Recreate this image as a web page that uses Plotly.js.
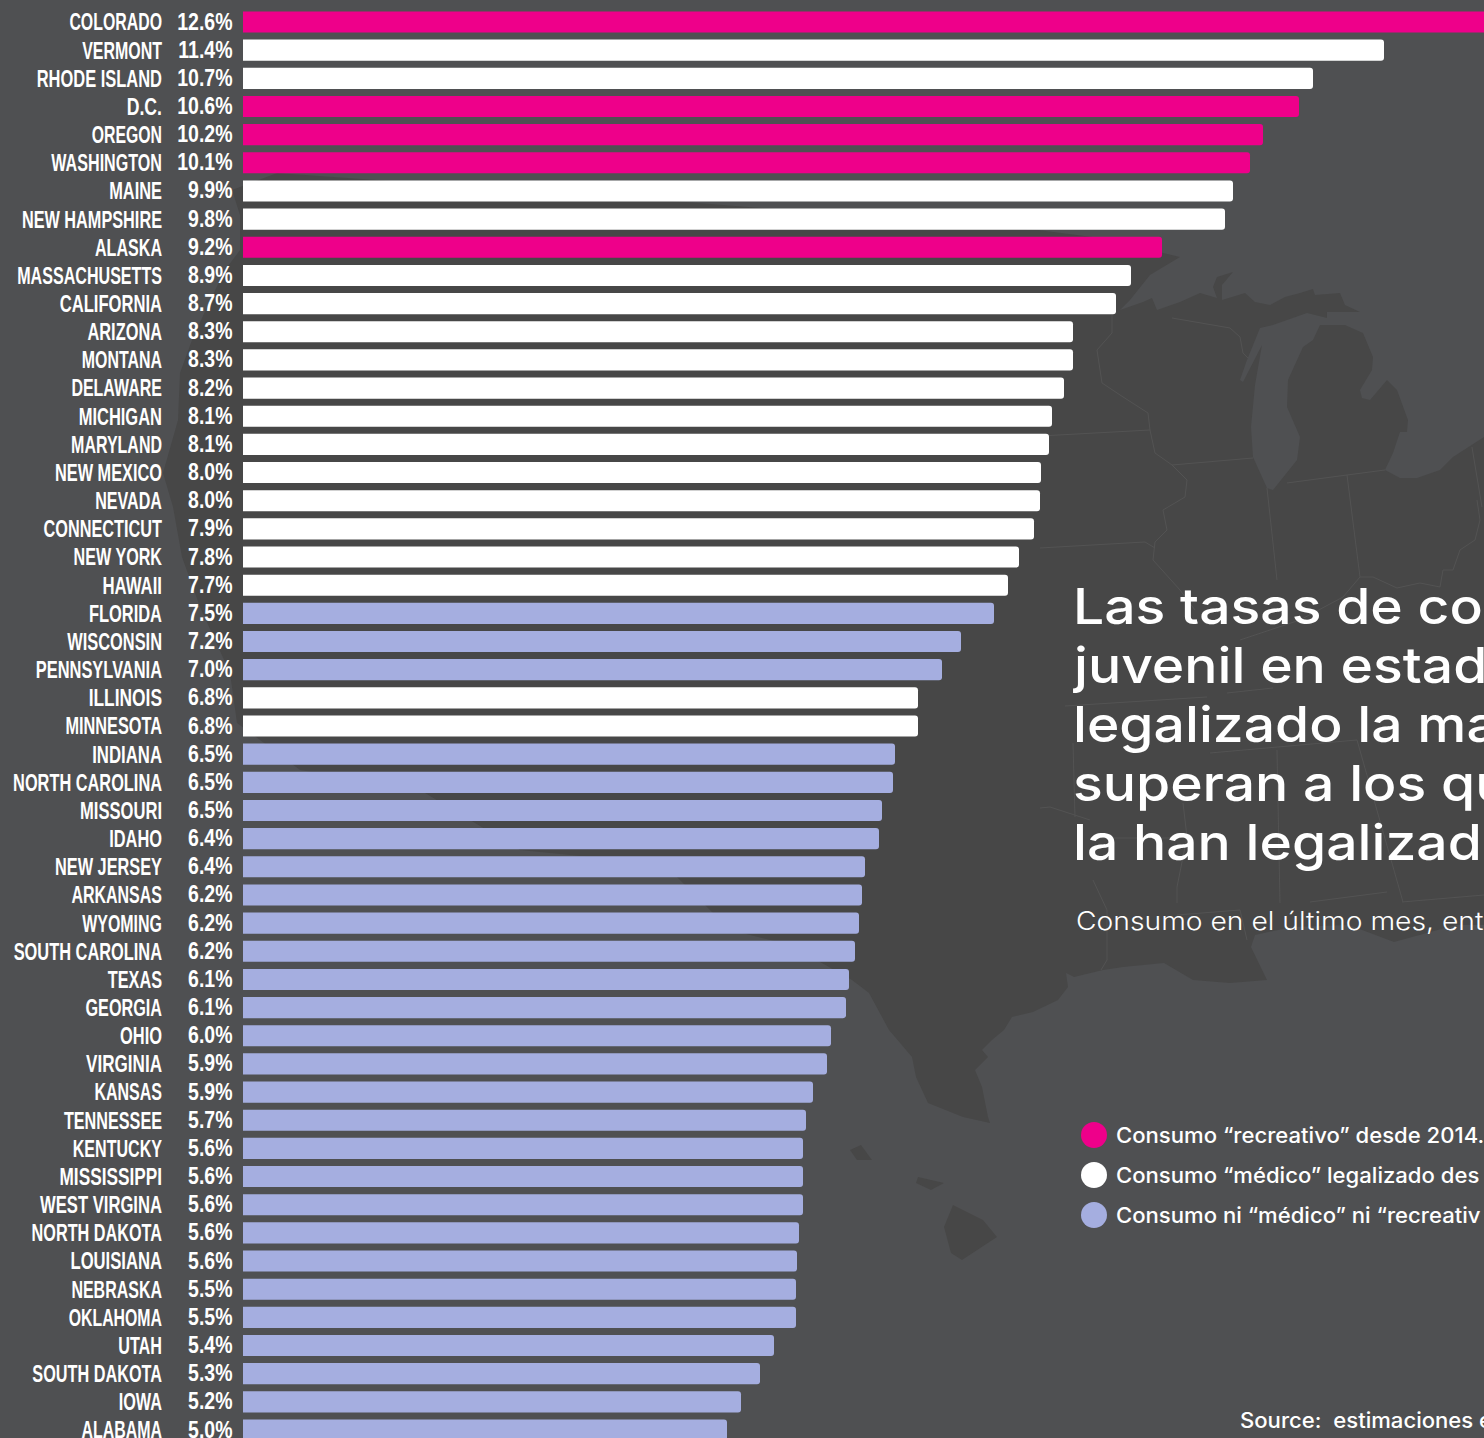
<!DOCTYPE html>
<html><head><meta charset="utf-8">
<script src="https://cdn.plot.ly/plotly-3.0.1.min.js"></script>
<style>html,body{margin:0;padding:0;background:#4f5052;overflow:hidden}#chart{width:1484px;height:1438px}</style>
</head><body><div id="chart"></div>
<script>
const states = ["COLORADO","VERMONT","RHODE ISLAND","D.C.","OREGON","WASHINGTON","MAINE","NEW HAMPSHIRE","ALASKA","MASSACHUSETTS","CALIFORNIA","ARIZONA","MONTANA","DELAWARE","MICHIGAN","MARYLAND","NEW MEXICO","NEVADA","CONNECTICUT","NEW YORK","HAWAII","FLORIDA","WISCONSIN","PENNSYLVANIA","ILLINOIS","MINNESOTA","INDIANA","NORTH CAROLINA","MISSOURI","IDAHO","NEW JERSEY","ARKANSAS","WYOMING","SOUTH CAROLINA","TEXAS","GEORGIA","OHIO","VIRGINIA","KANSAS","TENNESSEE","KENTUCKY","MISSISSIPPI","WEST VIRGINA","NORTH DAKOTA","LOUISIANA","NEBRASKA","OKLAHOMA","UTAH","SOUTH DAKOTA","IOWA","ALABAMA"];
const printedLabels = ["12.6%","11.4%","10.7%","10.6%","10.2%","10.1%","9.9%","9.8%","9.2%","8.9%","8.7%","8.3%","8.3%","8.2%","8.1%","8.1%","8.0%","8.0%","7.9%","7.8%","7.7%","7.5%","7.2%","7.0%","6.8%","6.8%","6.5%","6.5%","6.5%","6.4%","6.4%","6.2%","6.2%","6.2%","6.1%","6.1%","6.0%","5.9%","5.9%","5.7%","5.6%","5.6%","5.6%","5.6%","5.6%","5.5%","5.5%","5.4%","5.3%","5.2%","5.0%"];
const barLengths = [12.60,11.41,10.70,10.56,10.20,10.07,9.90,9.82,9.19,8.88,8.73,8.30,8.30,8.21,8.09,8.06,7.98,7.97,7.91,7.76,7.65,7.51,7.18,6.99,6.75,6.75,6.52,6.50,6.39,6.36,6.22,6.19,6.16,6.12,6.06,6.03,5.88,5.84,5.70,5.63,5.60,5.60,5.60,5.56,5.54,5.53,5.53,5.31,5.17,4.98,4.84];
// r = recreational, m = medical, n = neither
const groupOf = ["r","m","m","r","r","r","m","m","r","m","m","m","m","m","m","m","m","m","m","m","m","n","n","n","m","m","n","n","n","n","n","n","n","n","n","n","n","n","n","n","n","n","n","n","n","n","n","n","n","n","n"];
const groupNames = {r:"Consumo “recreativo” desde 2014.", m:"Consumo “médico” legalizado des", n:"Consumo ni “médico” ni “recreativ"};
const groupColors = {r:"#ee008a", m:"#ffffff", n:"#a5aee0"};
const titleLines = ["Las tasas de co","juvenil en estad","legalizado la ma","superan a los qu","la han legalizad"];
const subtitleText = "Consumo en el último mes, ent";
const sourceText = "Source:  estimaciones e";

// background map outline in page pixels
const landX = [277,660,1038,1100,1180,1150,1130,1120,1143,1152,1157,1180,1200,1217,1213,1217,1233,1222,1222,1245,1255,1270,1285,1300,1313,1315,1340,1345,1360,1327,1327,1307,1287,1273,1260,1247,1240,1243,1262,1255,1251,1253,1267,1273,1297,1300,1287,1288,1303,1313,1320,1345,1363,1373,1372,1360,1362,1370,1387,1397,1408,1407,1400,1393,1385,1400,1417,1440,1453,1484,1484,1456,1394,1349,1292,1255,1251,1267,1230,1193,1164,1123,1103,1074,1066,1068,1058,1033,1012,1004,992,982,988,975,982,988,990,963,928,916,912,889,869,852,790,730,660,620,520,420,300,260,237,230,200,182,173,163,178,180,192,207,225,240,240,232];
const landY = [173,200,230,238,257,275,300,310,302,298,310,302,293,298,287,277,272,285,300,293,302,305,297,293,289,295,293,305,312,312,318,313,320,325,328,360,380,382,345,385,427,457,488,490,460,437,407,380,347,340,325,325,333,357,370,390,398,400,380,390,420,432,432,453,470,478,478,470,457,437,925,925,942,925,927,935,947,980,983,980,963,967,970,977,973,987,1000,1012,1017,1030,1040,1050,1057,1070,1087,1117,1123,1117,1103,1077,1057,1030,993,980,945,930,860,860,850,790,770,740,723,673,607,557,507,473,420,373,340,307,270,250,215,190];
const islandsX = [[953,983,997,962,951,944],[918,944,931,916],[850,861,872,857]];
const islandsY = [[1205,1220,1237,1260,1253,1227],[1177,1183,1190,1183],[1150,1145,1160,1160]];
const borderX = [[1112,1112,1097,1102,1120,1148,1150,1155,1172,1187,1185,1163,1167,1155,1153,1180,1195],[1040,1150],[1040,1145,1155],[1172,1253],[1267,1277],[1287,1347,1385],[1347,1360],[1172,1230,1240,1243,1248],[1472,1482],[1477,1480,1475,1460,1453,1443,1440,1420,1397,1373,1360,1343,1300,1240],[1065,1207],[1227,1273],[1210,1357],[1277,1280],[1357,1403],[1402,1484],[1310,1387],[1177,1240,1247],[1183,1187,1177,1177],[1093,1107,1107,1101],[1073,1075],[1040,1050,1090],[1092,1180]];
const borderY = [[315,333,350,383,395,413,430,453,465,480,497,510,530,542,560,590,610],[436,430],[548,542,548],[465,458],[488,580],[483,475,470],[475,577],[318,328,337,353,358],[447,507],[500,520,540,550,570,570,587,583,588,577,577,597,620,640],[706,697],[693,688],[753,740],[750,903],[740,902],[902,895],[902,892],[915,910,940],[803,837,887,903],[880,910,960,970],[743,817],[808,807,820],[838,838]];

const W = 1484, H = 1438;
const px = v => v / W, py = v => 1 - v / H;
const pathOf = (xs, ys, close) => xs.map((x, i) => (i ? "L" : "M") + px(x).toFixed(5) + "," + py(ys[i]).toFixed(5)).join(" ") + (close ? " Z" : "");
const shapes = [];
shapes.push({type:"path", xref:"paper", yref:"paper", layer:"below", path:pathOf(landX, landY, true), fillcolor:"#474747", line:{width:0}});
islandsX.forEach((xs, i) => shapes.push({type:"path", xref:"paper", yref:"paper", layer:"below", path:pathOf(xs, islandsY[i], true), fillcolor:"#474747", line:{width:0}}));
borderX.forEach((xs, i) => shapes.push({type:"path", xref:"paper", yref:"paper", layer:"below", path:pathOf(xs, borderY[i], false), line:{color:"#535353", width:1}}));

const rowPitch = 28.16, firstRow = 22;
const labelFont = {family:"Liberation Sans", size:24, color:"#ffffff", weight:700};
const traces = ["r","m","n"].map(k => {
  const idx = states.map((s, i) => i).filter(i => groupOf[i] === k);
  return {type:"bar", orientation:"h", name:groupNames[k], y:idx.map(i => states[i]), x:idx.map(i => barLengths[i]),
    width:0.75, marker:{color:groupColors[k], cornerradius:3, line:{width:0}}, hoverinfo:"skip", showlegend:false};
});
traces.push({type:"scatter", mode:"text", y:states, x:states.map(() => -0.105), text:printedLabels, textposition:"middle left",
  textfont:labelFont, cliponaxis:false, hoverinfo:"skip", showlegend:false});

const annotations = [];
const addText = (text, x, y, size, weight) => annotations.push({xref:"paper", yref:"paper", x:px(x), y:py(y), xanchor:"left", yanchor:"middle", showarrow:false, align:"left", text,
  font:{family:"Inter", size, weight, color:"#ffffff"}});
const titleY = [606,665,724,783,842];
titleLines.forEach((t, i) => addText(t, 1071, titleY[i], 50, 500));
addText(subtitleText, 1074, 921, 25, 300);
const legendY = [1135,1175,1215];
["r","m","n"].forEach((k, i) => {
  addText(groupNames[k], 1114, legendY[i], 21, 500);
  shapes.push({type:"circle", xref:"paper", yref:"paper", x0:px(1081), x1:px(1107), y0:py(legendY[i]-13), y1:py(legendY[i]+13), fillcolor:groupColors[k], line:{width:0}, layer:"above"});
});
addText(sourceText, 1238, 1420, 21, 500);

const layout = {width:W, height:H, margin:{l:0,r:0,t:0,b:0}, paper_bgcolor:"#4f5052", plot_bgcolor:"rgba(0,0,0,0)", barmode:"overlay", showlegend:false,
  xaxis:{range:[-2.43,12.41], visible:false, domain:[0,1], fixedrange:true},
  yaxis:{type:"category", categoryorder:"array", categoryarray:states, tickmode:"array", tickvals:states, ticktext:states, range:[(H-firstRow)/rowPitch, -firstRow/rowPitch], anchor:"free", position:162/1484, showgrid:false, zeroline:false, showline:false, ticks:"", tickfont:labelFont, automargin:false, fixedrange:true},
  shapes, annotations};
const setLen = (t, len) => { t.setAttribute("textLength", len.toFixed(1)); t.setAttribute("lengthAdjust", "spacingAndGlyphs"); };
Plotly.newPlot("chart", traces, layout, {displayModeBar:false, staticPlot:true}).then(() => {
  document.querySelectorAll(".ytick text").forEach(t => setLen(t, 0.75 * 0.667 * t.getComputedTextLength() + 0.25 * 11.3 * t.textContent.length));
  document.querySelectorAll(".textpoint text").forEach(t => {
    setLen(t, 0.8125 * t.getComputedTextLength());
    t.setAttribute("y", parseFloat(t.getAttribute("y")) + 1.5);
  });
  document.querySelectorAll(".annotation-text").forEach(t => {
    const size = parseFloat(getComputedStyle(t).fontSize);
    setLen(t, t.getComputedTextLength() * (size > 40 ? 1.105 : size > 24 ? 1.13 : 1.052));
  });
});
</script></body></html>
